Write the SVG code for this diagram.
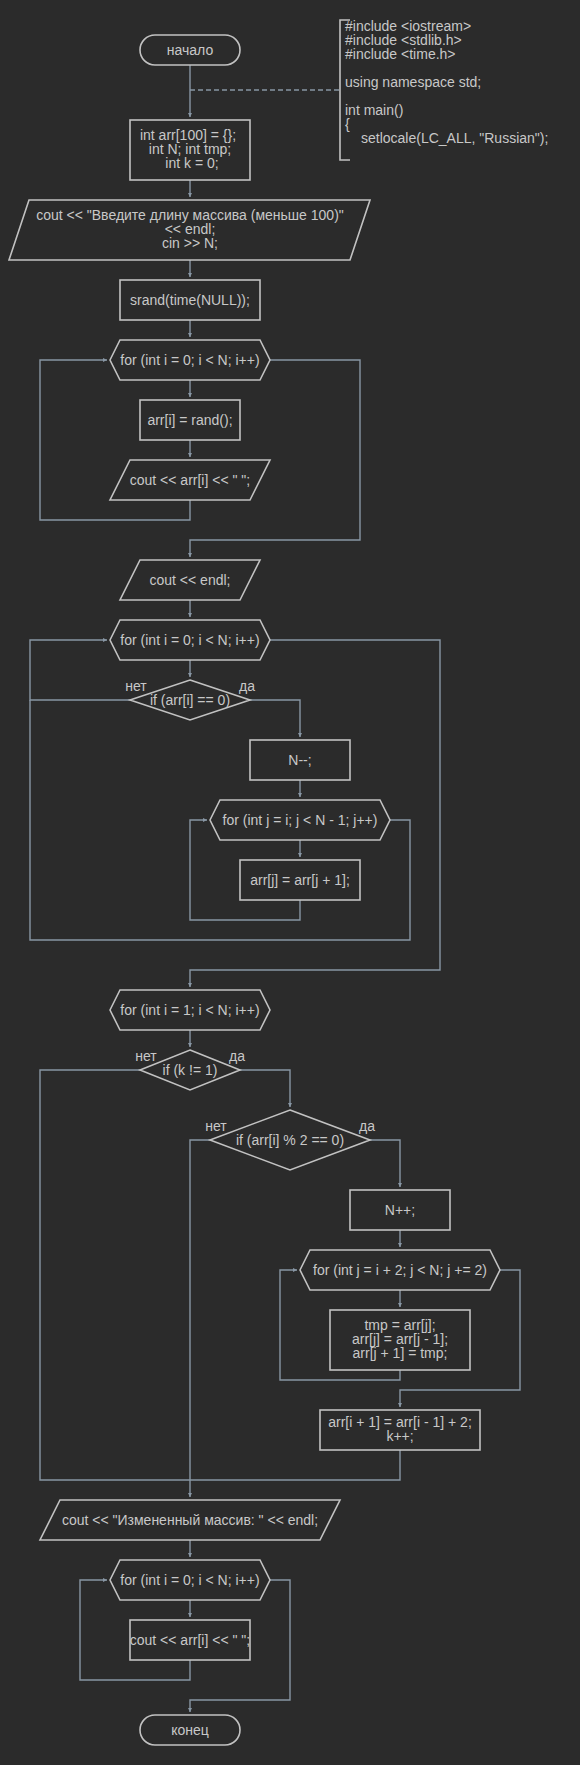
<svg xmlns="http://www.w3.org/2000/svg" width="580" height="1765" viewBox="0 0 580 1765">
<style>
.s{fill:none;stroke:#c2c2c2;stroke-width:1.6}
.c{fill:none;stroke:#8896a4;stroke-width:1.4}
.a{marker-end:url(#ah)}
text{font-family:"Liberation Sans",Arial,sans-serif;font-size:14px;fill:#c8c8c8;text-anchor:middle}
.l{text-anchor:start}
</style>
<defs>
<marker id="ah" markerUnits="userSpaceOnUse" viewBox="0 0 4 4" refX="4" refY="2" markerWidth="4" markerHeight="4" orient="auto">
<path d="M0,0 L4,2 L0,4 z" fill="#8896a4"/>
</marker>
</defs>
<rect width="580" height="1765" fill="#2b2b2b"/>
<g id="connectors">
<path class="c" d="M190,90 H340" stroke-dasharray="5 3"/>
<path class="c a" d="M190,65 V117"/>
<path class="c a" d="M190,180 V197"/>
<path class="c a" d="M190,260 V277"/>
<path class="c a" d="M190,320 V337"/>
<path class="c a" d="M190,380 V397"/>
<path class="c a" d="M190,440 V457"/>
<path class="c a" d="M190,500 V520 H40 V360 H107"/>
<path class="c a" d="M270,360 H360 V540 H190 V557"/>
<path class="c a" d="M190,600 V617"/>
<path class="c a" d="M190,660 V677"/>
<path class="c a" d="M130,700 H30 V640 H107"/>
<path class="c a" d="M250,700 H300 V737"/>
<path class="c a" d="M300,780 V797"/>
<path class="c a" d="M300,840 V857"/>
<path class="c a" d="M300,900 V920 H190 V820 H207"/>
<path class="c" d="M390,820 H410 V940 H30 V700"/>
<path class="c a" d="M270,640 H440 V970 H190 V987"/>
<path class="c a" d="M190,1030 V1047"/>
<path class="c" d="M140,1070 H40 V1480 H190"/>
<path class="c a" d="M240,1070 H290 V1107"/>
<path class="c a" d="M210,1140 H190 V1497"/>
<path class="c a" d="M370,1140 H400 V1187"/>
<path class="c a" d="M400,1230 V1247"/>
<path class="c a" d="M400,1290 V1307"/>
<path class="c a" d="M400,1370 V1380 H280 V1270 H297"/>
<path class="c a" d="M500,1270 H520 V1390 H400 V1407"/>
<path class="c" d="M400,1450 V1480 H190"/>
<path class="c a" d="M190,1540 V1557"/>
<path class="c a" d="M190,1600 V1617"/>
<path class="c a" d="M190,1660 V1680 H80 V1580 H107"/>
<path class="c a" d="M270,1580 H290 V1700 H190 V1712"/>
</g>
<g id="comment">
<path class="s" d="M350,20 H340 V160 H350"/>
<text class="l" x="345" y="31">#include &lt;iostream&gt;</text>
<text class="l" x="345" y="45">#include &lt;stdlib.h&gt;</text>
<text class="l" x="345" y="59">#include &lt;time.h&gt;</text>
<text class="l" x="345" y="87">using namespace std;</text>
<text class="l" x="345" y="115">int main()</text>
<text class="l" x="345" y="129">{</text>
<text class="l" x="361" y="143">setlocale(LC_ALL, "Russian");</text>
</g>
<g id="start">
<rect class="s" x="140" y="35" width="100" height="30" rx="15"/>
<text x="190" y="55">начало</text>
</g>
<g id="decl">
<rect class="s" x="130" y="120" width="120" height="60"/>
<text x="188" y="140">int arr[100] = {};</text>
<text x="190" y="154">int N; int tmp;</text>
<text x="192" y="168">int k = 0;</text>
</g>
<g id="input">
<polygon class="s" points="29,200 370,200 350,260 9,260"/>
<text x="190" y="220">cout &lt;&lt; "Введите длину массива (меньше 100)"</text>
<text x="190" y="234">&lt;&lt; endl;</text>
<text x="190" y="248">cin &gt;&gt; N;</text>
</g>
<g id="srand">
<rect class="s" x="120" y="280" width="140" height="40"/>
<text x="190" y="305">srand(time(NULL));</text>
</g>
<g id="for1">
<polygon class="s" points="110,360 120,340 260,340 270,360 260,380 120,380"/>
<text x="190" y="365">for (int i = 0; i &lt; N; i++)</text>
</g>
<g id="rand">
<rect class="s" x="140" y="400" width="100" height="40"/>
<text x="190" y="425">arr[i] = rand();</text>
</g>
<g id="out1">
<polygon class="s" points="130,460 270,460 250,500 110,500"/>
<text x="190" y="485">cout &lt;&lt; arr[i] &lt;&lt; " ";</text>
</g>
<g id="endl">
<polygon class="s" points="140,560 260,560 240,600 120,600"/>
<text x="190" y="585">cout &lt;&lt; endl;</text>
</g>
<g id="for2">
<polygon class="s" points="110,640 120,620 260,620 270,640 260,660 120,660"/>
<text x="190" y="645">for (int i = 0; i &lt; N; i++)</text>
</g>
<g id="if1">
<polygon class="s" points="190,680 250,700 190,720 130,700"/>
<text x="190" y="705">if (arr[i] == 0)</text>
<text x="136" y="691">нет</text>
<text x="247" y="691">да</text>
</g>
<g id="ndec">
<rect class="s" x="250" y="740" width="100" height="40"/>
<text x="300" y="765">N--;</text>
</g>
<g id="for3">
<polygon class="s" points="210,820 220,800 380,800 390,820 380,840 220,840"/>
<text x="300" y="825">for (int j = i; j &lt; N - 1; j++)</text>
</g>
<g id="shift">
<rect class="s" x="240" y="860" width="120" height="40"/>
<text x="300" y="885">arr[j] = arr[j + 1];</text>
</g>
<g id="for4">
<polygon class="s" points="110,1010 120,990 260,990 270,1010 260,1030 120,1030"/>
<text x="190" y="1015">for (int i = 1; i &lt; N; i++)</text>
</g>
<g id="if2">
<polygon class="s" points="190,1050 240,1070 190,1090 140,1070"/>
<text x="190" y="1075">if (k != 1)</text>
<text x="146" y="1061">нет</text>
<text x="237" y="1061">да</text>
</g>
<g id="if3">
<polygon class="s" points="290,1110 370,1140 290,1170 210,1140"/>
<text x="290" y="1145">if (arr[i] % 2 == 0)</text>
<text x="216" y="1131">нет</text>
<text x="367" y="1131">да</text>
</g>
<g id="ninc">
<rect class="s" x="350" y="1190" width="100" height="40"/>
<text x="400" y="1215">N++;</text>
</g>
<g id="for5">
<polygon class="s" points="300,1270 310,1250 490,1250 500,1270 490,1290 310,1290"/>
<text x="400" y="1275">for (int j = i + 2; j &lt; N; j += 2)</text>
</g>
<g id="swap">
<rect class="s" x="330" y="1310" width="140" height="60"/>
<text x="400" y="1330">tmp = arr[j];</text>
<text x="400" y="1344">arr[j] = arr[j - 1];</text>
<text x="400" y="1358">arr[j + 1] = tmp;</text>
</g>
<g id="setk">
<rect class="s" x="320" y="1410" width="160" height="40"/>
<text x="400" y="1427">arr[i + 1] = arr[i - 1] + 2;</text>
<text x="400" y="1441">k++;</text>
</g>
<g id="out2">
<polygon class="s" points="60,1500 340,1500 320,1540 40,1540"/>
<text x="190" y="1525">cout &lt;&lt; "Измененный массив: " &lt;&lt; endl;</text>
</g>
<g id="for6">
<polygon class="s" points="110,1580 120,1560 260,1560 270,1580 260,1600 120,1600"/>
<text x="190" y="1585">for (int i = 0; i &lt; N; i++)</text>
</g>
<g id="out3">
<rect class="s" x="130" y="1620" width="120" height="40"/>
<text x="190" y="1645">cout &lt;&lt; arr[i] &lt;&lt; " ";</text>
</g>
<g id="end">
<rect class="s" x="140" y="1715" width="100" height="30" rx="15"/>
<text x="190" y="1735">конец</text>
</g>
</svg>
